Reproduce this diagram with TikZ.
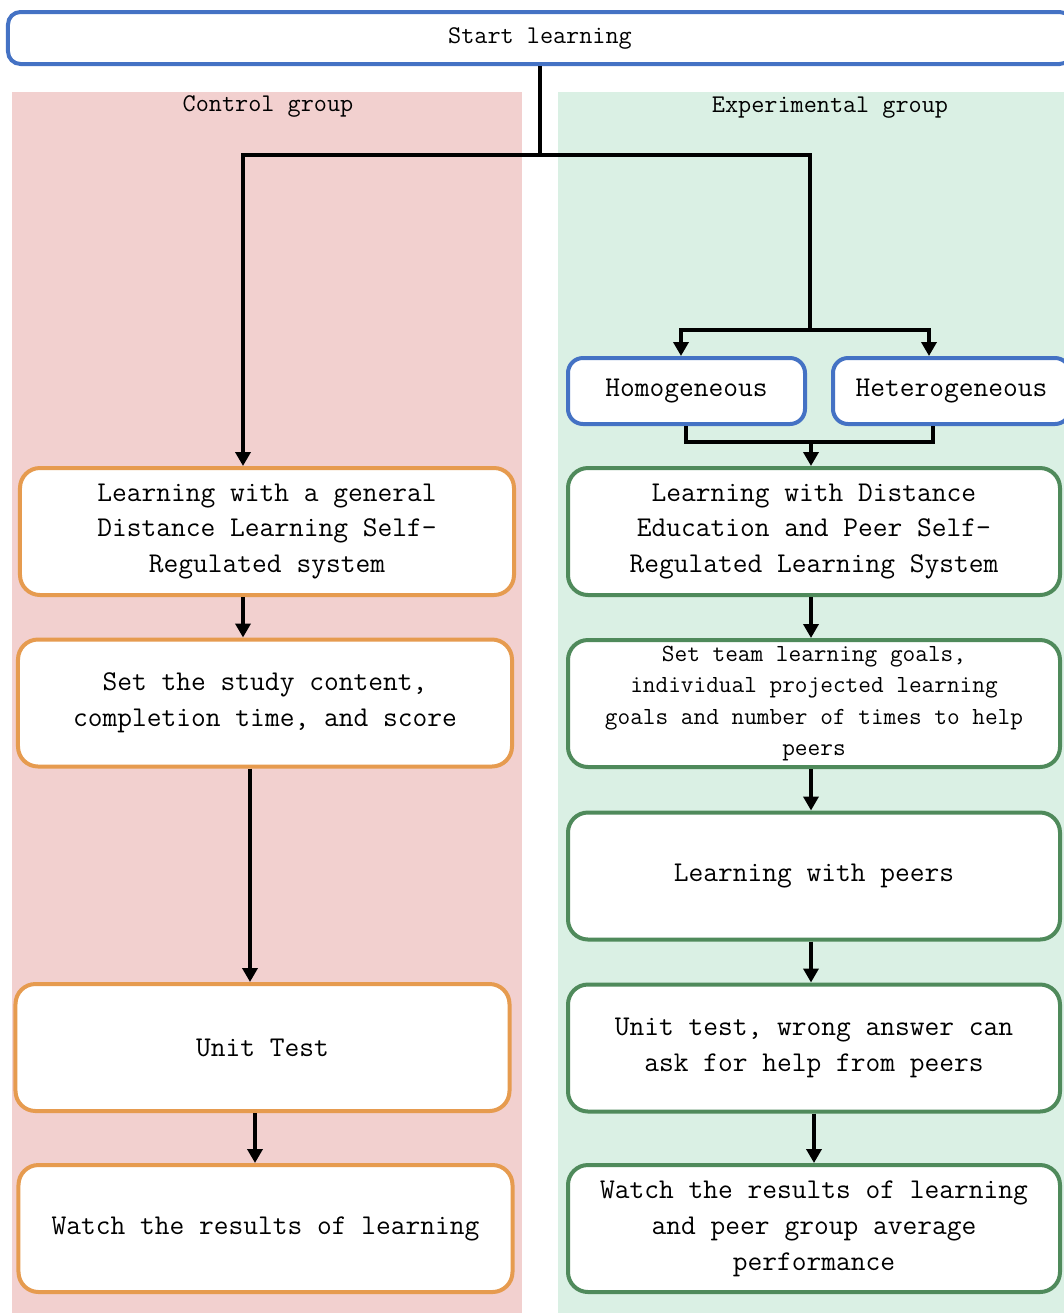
\documentclass[tikz,border=0pt]{standalone}
\usepackage{tikz}
\usetikzlibrary{arrows.meta,calc}
\definecolor{ctrlbg}{HTML}{F2D0CF}
\definecolor{expbg}{HTML}{DAF0E4}
\definecolor{ctrlline}{HTML}{E69B4F}
\definecolor{expline}{HTML}{4F8A5B}
\definecolor{choiceline}{HTML}{4472C4}

\begin{document}
\begin{tikzpicture}[x=0.2mm,y=-0.2mm,
	box/.style={draw,fill=white,rounded corners=4mm,line width=0.8mm,align=center,inner sep=0pt,
		font=\ttfamily\fontsize{16.3}{20.4}\selectfont},
	ctrlbox/.style={box,draw=ctrlline,minimum width=98.8mm,minimum height=25.4mm},
	expbox/.style={box,draw=expline,minimum width=98.4mm,minimum height=25.4mm},
	choicebox/.style={box,draw=choiceline,minimum width=47.4mm,minimum height=13.2mm,rounded corners=3mm},
	link/.style={line width=0.7mm},
	arrow/.style={link,-{Triangle[length=2.8mm,width=3mm]}},
	head/.style={font=\ttfamily\fontsize{14.5}{17}\selectfont}]
		\useasboundingbox (0,0) rectangle (1063,1313);
		\fill[ctrlbg] (12,92) rectangle (522,1320);
		\fill[expbg] (558,92) rectangle (1075,1320);
		\node[head] (ctrl) at (268,106) {Control group};
		\node[head] (exp) at (830,108) {Experimental group};

		\node[box,draw=choiceline,minimum width=212.8mm,minimum height=10.4mm,rounded corners=2.5mm,
			font=\ttfamily\fontsize{14.5}{17}\selectfont] (start) at (540,38) {Start learning};

		% control group
		\node[ctrlbox] (learnC) at (267,531.5) {Learning with a general\\Distance Learning Self-\\Regulated system};
		\node[ctrlbox] (setC) at (265,703) {Set the study content,\\completion time, and score};
		\node[ctrlbox] (testC) at (262.5,1047.5) {Unit Test};
		\node[ctrlbox] (resultC) at (265.5,1228.5) {Watch the results of learning};

		% experimental group
		\node[choicebox] (homo) at (686.5,391) {Homogeneous};
		\node[choicebox] (hetero) at (951.5,391) {Heterogeneous};
		\node[expbox] (learnE) at (814,531.5) {Learning with Distance\\Education and Peer Self-\\Regulated Learning System};
		\node[expbox,font=\ttfamily\fontsize{14}{17.8}\selectfont] (goalE) at (814,703.5)
			{Set team learning goals,\\individual projected learning\\goals and number of times to help\\peers};
		\node[expbox] (peerE) at (814,876) {Learning with peers};
		\node[expbox] (testE) at (814,1048) {Unit test, wrong answer can\\ask for help from peers};
		\node[expbox] (resultE) at (814,1228.5) {Watch the results of learning\\and peer group average\\performance};

		\coordinate (split) at (540,155);
		\coordinate (fork) at (810,330);
		\coordinate (join) at (811,442);
		\draw[link] (start) -- (split);
		\draw[arrow] (split) -| (learnC.north -| 243,0);
		\draw[link] (split) -| (fork);
		\draw[arrow] (fork) -| (homo.north -| 681,0);
		\draw[arrow] (fork) -| (hetero.north -| 929,0);
		\draw[link] (homo.south -| 686,0) |- (join) -| (hetero.south -| 933,0);
		\draw[arrow] (join) -- (learnE.north -| join);

		\draw[arrow] (learnC.south -| 243,0) -- (setC.north -| 243,0);
		\draw[arrow] (setC.south -| 250,0) -- (testC.north -| 250,0);
		\draw[arrow] (testC.south -| 255,0) -- (resultC.north -| 255,0);
		\foreach \a/\b in {learnE/goalE,goalE/peerE,peerE/testE}
			\draw[arrow] (\a.south -| 811,0) -- (\b.north -| 811,0);
		\draw[arrow] (testE.south -| 814,0) -- (resultE.north -| 814,0);
	\end{tikzpicture}
\end{document}
